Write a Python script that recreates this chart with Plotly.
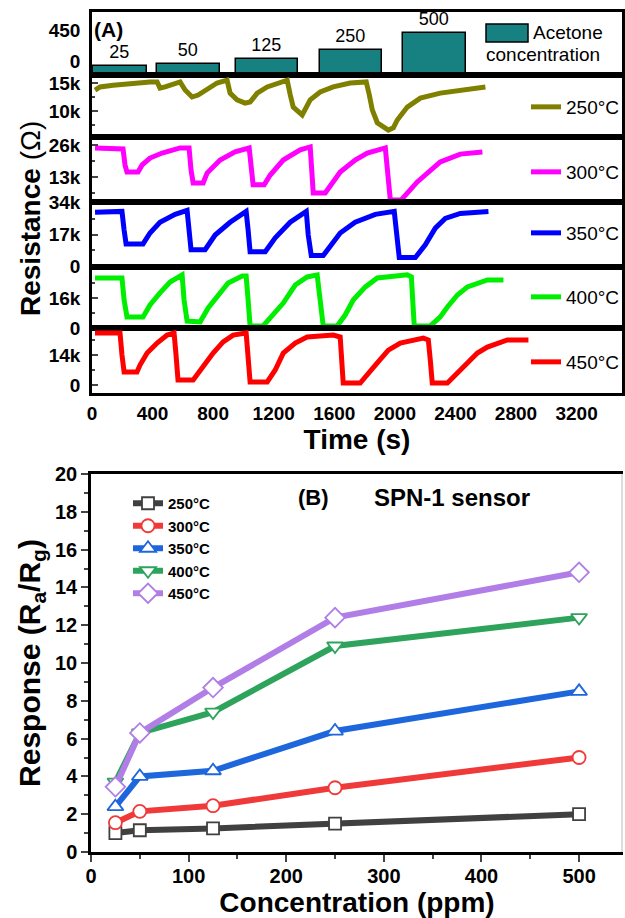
import plotly.graph_objects as go

W, H = 625, 918

# ---------------- Panel A data ----------------
conc_labels = ["25", "50", "125", "250", "500"]
acetone_ppm = [25, 50, 125, 250, 500]
pulse_center_s = [185, 638, 1157, 1712, 2264]
pulse_width_s = [357, 416, 410, 410, 416]
bar_base = -105

t_250 = [20, 53, 139, 271, 383, 430, 449, 483, 516, 582, 615, 661, 701, 760, 826, 892, 912, 958, 1011, 1044,
         1091, 1157, 1243, 1289, 1309, 1329, 1388, 1441, 1507, 1593, 1705, 1811, 1831, 1851, 1884, 1957, 1990,
         2016, 2082, 2168, 2300, 2432, 2598]
r_250 = [13.75, 14.3, 14.6, 15.0, 15.2, 15.2, 14.1, 14.3, 14.6, 15.2, 13.75, 12.5, 12.85, 13.75, 15.0, 15.5, 13.2,
         12.0, 11.4, 11.6, 13.2, 14.3, 15.2, 15.5, 12.9, 10.7, 9.3, 12.0, 13.4, 14.3, 15.0, 15.2, 12.9, 10.2, 7.9,
         6.6, 7.0, 8.4, 10.7, 12.3, 13.2, 13.75, 14.3]

t_300 = [20, 205, 218, 231, 304, 331, 383, 463, 582, 641, 654, 668, 734, 760, 846, 945, 1038, 1051, 1064, 1137,
         1177, 1263, 1375, 1441, 1448, 1461, 1540, 1639, 1738, 1818, 1937, 1950, 1970, 2042, 2148, 2300, 2432, 2578]
r_300 = [24.8, 24.4, 17.9, 15.0, 15.0, 17.9, 20.7, 22.75, 24.8, 24.8, 15.85, 10.6, 10.6, 14.6, 19.9, 23.2, 24.8,
         15.85, 9.8, 9.8, 13.8, 19.9, 24.0, 25.2, 15.85, 6.5, 6.5, 15.0, 19.9, 22.75, 24.8, 13.8, 3.7, 3.7, 11.0,
         19.1, 22.3, 23.2]

t_350 = [20, 198, 212, 225, 337, 383, 449, 549, 628, 641, 654, 747, 813, 912, 1018, 1031, 1044, 1144, 1210, 1309,
         1415, 1428, 1448, 1527, 1586, 1639, 1738, 1871, 1996, 2009, 2029, 2135, 2201, 2267, 2333, 2432, 2618]
r_350 = [28.8, 29.3, 19.4, 12.0, 12.0, 17.8, 23.5, 27.7, 29.8, 19.4, 8.9, 8.9, 16.7, 23.5, 29.3, 19.4, 7.85, 7.85,
         15.2, 23.5, 29.3, 16.7, 5.8, 5.8, 12.6, 17.8, 23.5, 27.7, 29.3, 16.7, 4.7, 4.7, 11.5, 20.4, 25.6, 28.2, 29.3]

t_400 = [20, 198, 212, 231, 337, 383, 449, 516, 595, 608, 628, 714, 767, 826, 899, 992, 1018, 1031, 1044, 1130,
         1190, 1263, 1342, 1421, 1487, 1507, 1527, 1619, 1672, 1725, 1805, 1884, 2082, 2109, 2115, 2128, 2234,
         2300, 2347, 2413, 2479, 2611, 2717]
r_400 = [26.7, 26.7, 14.9, 5.9, 5.9, 12.3, 18.7, 24.5, 28.3, 14.9, 3.7, 3.2, 10.7, 16.5, 24.0, 27.7, 27.7, 14.9,
         1.1, 1.1, 6.9, 13.3, 22.9, 27.2, 28.3, 14.9, 1.1, 1.1, 6.9, 14.9, 21.9, 26.7, 28.3, 27.2, 14.9, 1.1, 1.1,
         5.9, 11.2, 17.6, 21.9, 25.6, 25.6]

t_450 = [20, 185, 198, 212, 297, 317, 364, 430, 496, 542, 555, 568, 668, 714, 800, 866, 932, 1018, 1031, 1044,
         1157, 1210, 1263, 1342, 1421, 1507, 1593, 1639, 1653, 1659, 1771, 1824, 1884, 1957, 2036, 2188, 2221,
         2234, 2247, 2347, 2413, 2479, 2545, 2611, 2743, 2882]
r_450 = [24.3, 24.3, 14.0, 6.1, 6.1, 9.3, 14.9, 19.6, 23.3, 24.3, 14.0, 2.3, 2.3, 7.0, 14.9, 20.1, 23.3, 24.3,
         14.0, 1.4, 1.4, 7.0, 14.9, 19.6, 22.4, 22.9, 23.3, 22.4, 11.7, 0.9, 0.9, 5.6, 10.3, 16.3, 19.6, 21.9, 21.0,
         11.7, 0.9, 0.9, 5.6, 10.3, 14.9, 17.7, 21.0, 21.0]

temp_names = ["250°C", "300°C", "350°C", "400°C", "450°C"]
temp_colors_A = ["#808000", "#ff00ff", "#0000ff", "#00ee00", "#ff0000"]
strip_ranges = [[5.36, 16.43], [2.84, 29.25], [-0.3, 34.3], [0, 32.5], [-3.73, 26.6]]
strip_tickvals = [[10, 15], [13, 26], [0, 17, 34], [0, 16], [0, 14]]
strip_ticktext = [["10k", "15k"], ["13k", "26k"], ["0", "17k", "34k"], ["0", "16k"], ["0", "14k"]]
strip_minor = [2.5, 6.5, 8.5, 8, 7]

# ---------------- Panel B data ----------------
conc_ppm = [25, 50, 125, 250, 500]
resp_250 = [1.0, 1.15, 1.25, 1.5, 2.0]
resp_300 = [1.55, 2.15, 2.45, 3.4, 5.0]
resp_350 = [2.4, 4.0, 4.3, 6.4, 8.5]
resp_400 = [3.7, 6.3, 7.4, 10.9, 12.4]
resp_450 = [3.45, 6.3, 8.7, 12.4, 14.8]
colors_B = ["#404040", "#f03a3a", "#1e66dc", "#2ea35c", "#b07ee6"]
symbols_B = ["square", "circle", "triangle-up", "triangle-down", "diamond"]
sizes_B = [12, 13, 14, 14, 15]


def px(xp):
    return xp / W


def py(yp):
    return 1 - yp / H


FONT = "Liberation Sans"
fig = go.Figure()

# Panel A geometry
xdomA = [px(92), px(622)]
strips_px = [(12, 75), (75, 137), (137, 202), (202, 267), (267, 328), (328, 393)]
legend_y_px = [107, 172, 233, 297, 362]

# Bars
fig.add_trace(go.Bar(
    x=pulse_center_s, y=[c - bar_base for c in acetone_ppm], base=bar_base, width=pulse_width_s,
    marker=dict(color="#178080", line=dict(color="black", width=1.5)),
    text=conc_labels, textposition="outside", constraintext="none", cliponaxis=False,
    textfont=dict(family=FONT, size=18, color="black"),
    xaxis="x", yaxis="y", showlegend=False, hoverinfo="skip"))

series_t = [t_250, t_300, t_350, t_400, t_450]
series_r = [r_250, r_300, r_350, r_400, r_450]
for i in range(5):
    k = i + 2
    fig.add_trace(go.Scatter(
        x=series_t[i], y=series_r[i], mode="lines", name=temp_names[i],
        line=dict(color=temp_colors_A[i], width=5),
        xaxis=f"x{k}", yaxis=f"y{k}", legend=f"legend{k}"))

# Panel B traces
resp_all = [resp_250, resp_300, resp_350, resp_400, resp_450]
for i in range(5):
    fig.add_trace(go.Scatter(
        x=conc_ppm, y=resp_all[i], mode="lines+markers", name=temp_names[i],
        line=dict(color=colors_B[i], width=6),
        marker=dict(symbol=symbols_B[i], size=sizes_B[i], color="white",
                    line=dict(color=colors_B[i], width=1.8)),
        xaxis="x7", yaxis="y7", legend="legend"))

layout = dict(width=W, height=H, margin=dict(l=0, r=0, t=0, b=0, autoexpand=False),
              paper_bgcolor="white", plot_bgcolor="white",
              font=dict(family=FONT, color="black"), bargap=0)

tickfontA = dict(family=FONT, size=19, color="black", weight="bold")
for k in range(1, 7):
    top, bot = strips_px[k - 1]
    xname = "xaxis" if k == 1 else f"xaxis{k}"
    yname = "yaxis" if k == 1 else f"yaxis{k}"
    yref = "y" if k == 1 else f"y{k}"
    xref = "x" if k == 1 else f"x{k}"
    xa = dict(domain=xdomA, anchor=yref, range=[0, 3500], showline=True, mirror=True,
              linecolor="black", linewidth=2.5, showgrid=False, zeroline=False,
              showticklabels=False, ticks="", automargin=False)
    if k != 6:
        xa["matches"] = "x6"
    else:
        xa.update(showticklabels=True, tickmode="linear", tick0=0, dtick=400,
                  tickfont=tickfontA, ticklabelstandoff=1,
                  title=dict(text="<b>Time (s)</b>", font=dict(family=FONT, size=28), standoff=2))
    layout[xname] = xa
    ya = dict(domain=[py(bot), py(top)], anchor=xref, showline=True, mirror=True,
              linecolor="black", linewidth=2.5, showgrid=False, zeroline=False, automargin=False,
              tickfont=dict(family=FONT, size=19, color="black", weight="bold"))
    if k == 1:
        ya.update(range=[-105, 801.5], tickmode="array", tickvals=[0, 450], ticktext=["0", "450"],
                  ticks="", ticklabelshift=-6, ticklabelstandoff=5)
    else:
        i = k - 2
        ya.update(range=strip_ranges[i], tickmode="array", tickvals=strip_tickvals[i],
                  ticktext=strip_ticktext[i], ticks="inside", ticklen=6, tickwidth=2,
                  ticklabelstandoff=5,
                  minor=dict(ticks="inside", ticklen=3, tickwidth=1.5, dtick=strip_minor[i], tick0=0))
    layout[yname] = ya

for i in range(5):
    k = i + 2
    layout[f"legend{k}"] = dict(x=1, y=py(legend_y_px[i]), xanchor="right", yanchor="middle",
                                bgcolor="rgba(0,0,0,0)", font=dict(family=FONT, size=19, color="black"))

# Panel B axes
layout["xaxis7"] = dict(domain=[px(91), px(623)], anchor="y7", range=[0, 545], showline=True, mirror=True,
                        linecolor="black", linewidth=2.5, showgrid=False, zeroline=False, automargin=False,
                        tickmode="linear", tick0=0, dtick=100, ticks="outside", ticklen=7, tickwidth=2,
                        minor=dict(ticks="outside", ticklen=4, tickwidth=2, dtick=50, tick0=0),
                        tickfont=dict(family=FONT, size=20, color="black", weight="bold"),
                        ticklabelstandoff=-3,
                        title=dict(text="<b>Concentration (ppm)</b>", font=dict(family=FONT, size=28),
                                   standoff=3))
layout["yaxis7"] = dict(domain=[py(852), py(474)], anchor="x7", range=[0, 20], showline=True,
                        linecolor="black", linewidth=2.5, showgrid=False, zeroline=False, automargin=False,
                        tickmode="linear", tick0=0, dtick=2, ticks="outside", ticklen=7, tickwidth=2,
                        minor=dict(ticks="outside", ticklen=4, tickwidth=2, dtick=1, tick0=0),
                        tickfont=dict(family=FONT, size=20, color="black", weight="bold"),
                        title=dict(text="<b>Response (R<sub>a</sub>/R<sub>g</sub>)</b>",
                                   font=dict(family=FONT, size=30), standoff=6))
layout["legend"] = dict(x=px(128), y=py(487), xanchor="left", yanchor="top", bgcolor="rgba(0,0,0,0)",
                        font=dict(family=FONT, size=15, color="black", weight="bold"), tracegroupgap=0)

layout["shapes"] = [
    dict(type="rect", xref="paper", yref="paper", x0=px(486), x1=px(528), y0=py(42), y1=py(24),
         fillcolor="#178080", line=dict(color="black", width=1.5)),
    dict(type="line", xref="paper", yref="paper", x0=px(622), x1=px(622), y0=py(852), y1=py(474),
         line=dict(color="#bbbbbb", width=1)),
]


def ann(text, x, y, size, xanchor="left", angle=0, bold=False):
    return dict(text=text, x=px(x), y=py(y), xref="paper", yref="paper", xanchor=xanchor, yanchor="middle",
                showarrow=False, textangle=angle,
                font=dict(family=FONT, size=size, color="black", weight="bold" if bold else "normal"))


layout["annotations"] = [
    ann("(A)", 92, 29, 21, bold=True),
    ann("Acetone", 531, 33, 19),
    ann("concentration", 484, 55, 19),
    ann("<b>Resistance</b> (Ω)", 30, 219, 28, xanchor="center", angle=-90),
    ann("(B)", 296, 497, 22, bold=True),
    ann("SPN-1 sensor", 372, 497, 24, bold=True),
]

fig.update_layout(**layout)
fig.write_html("out.html")
